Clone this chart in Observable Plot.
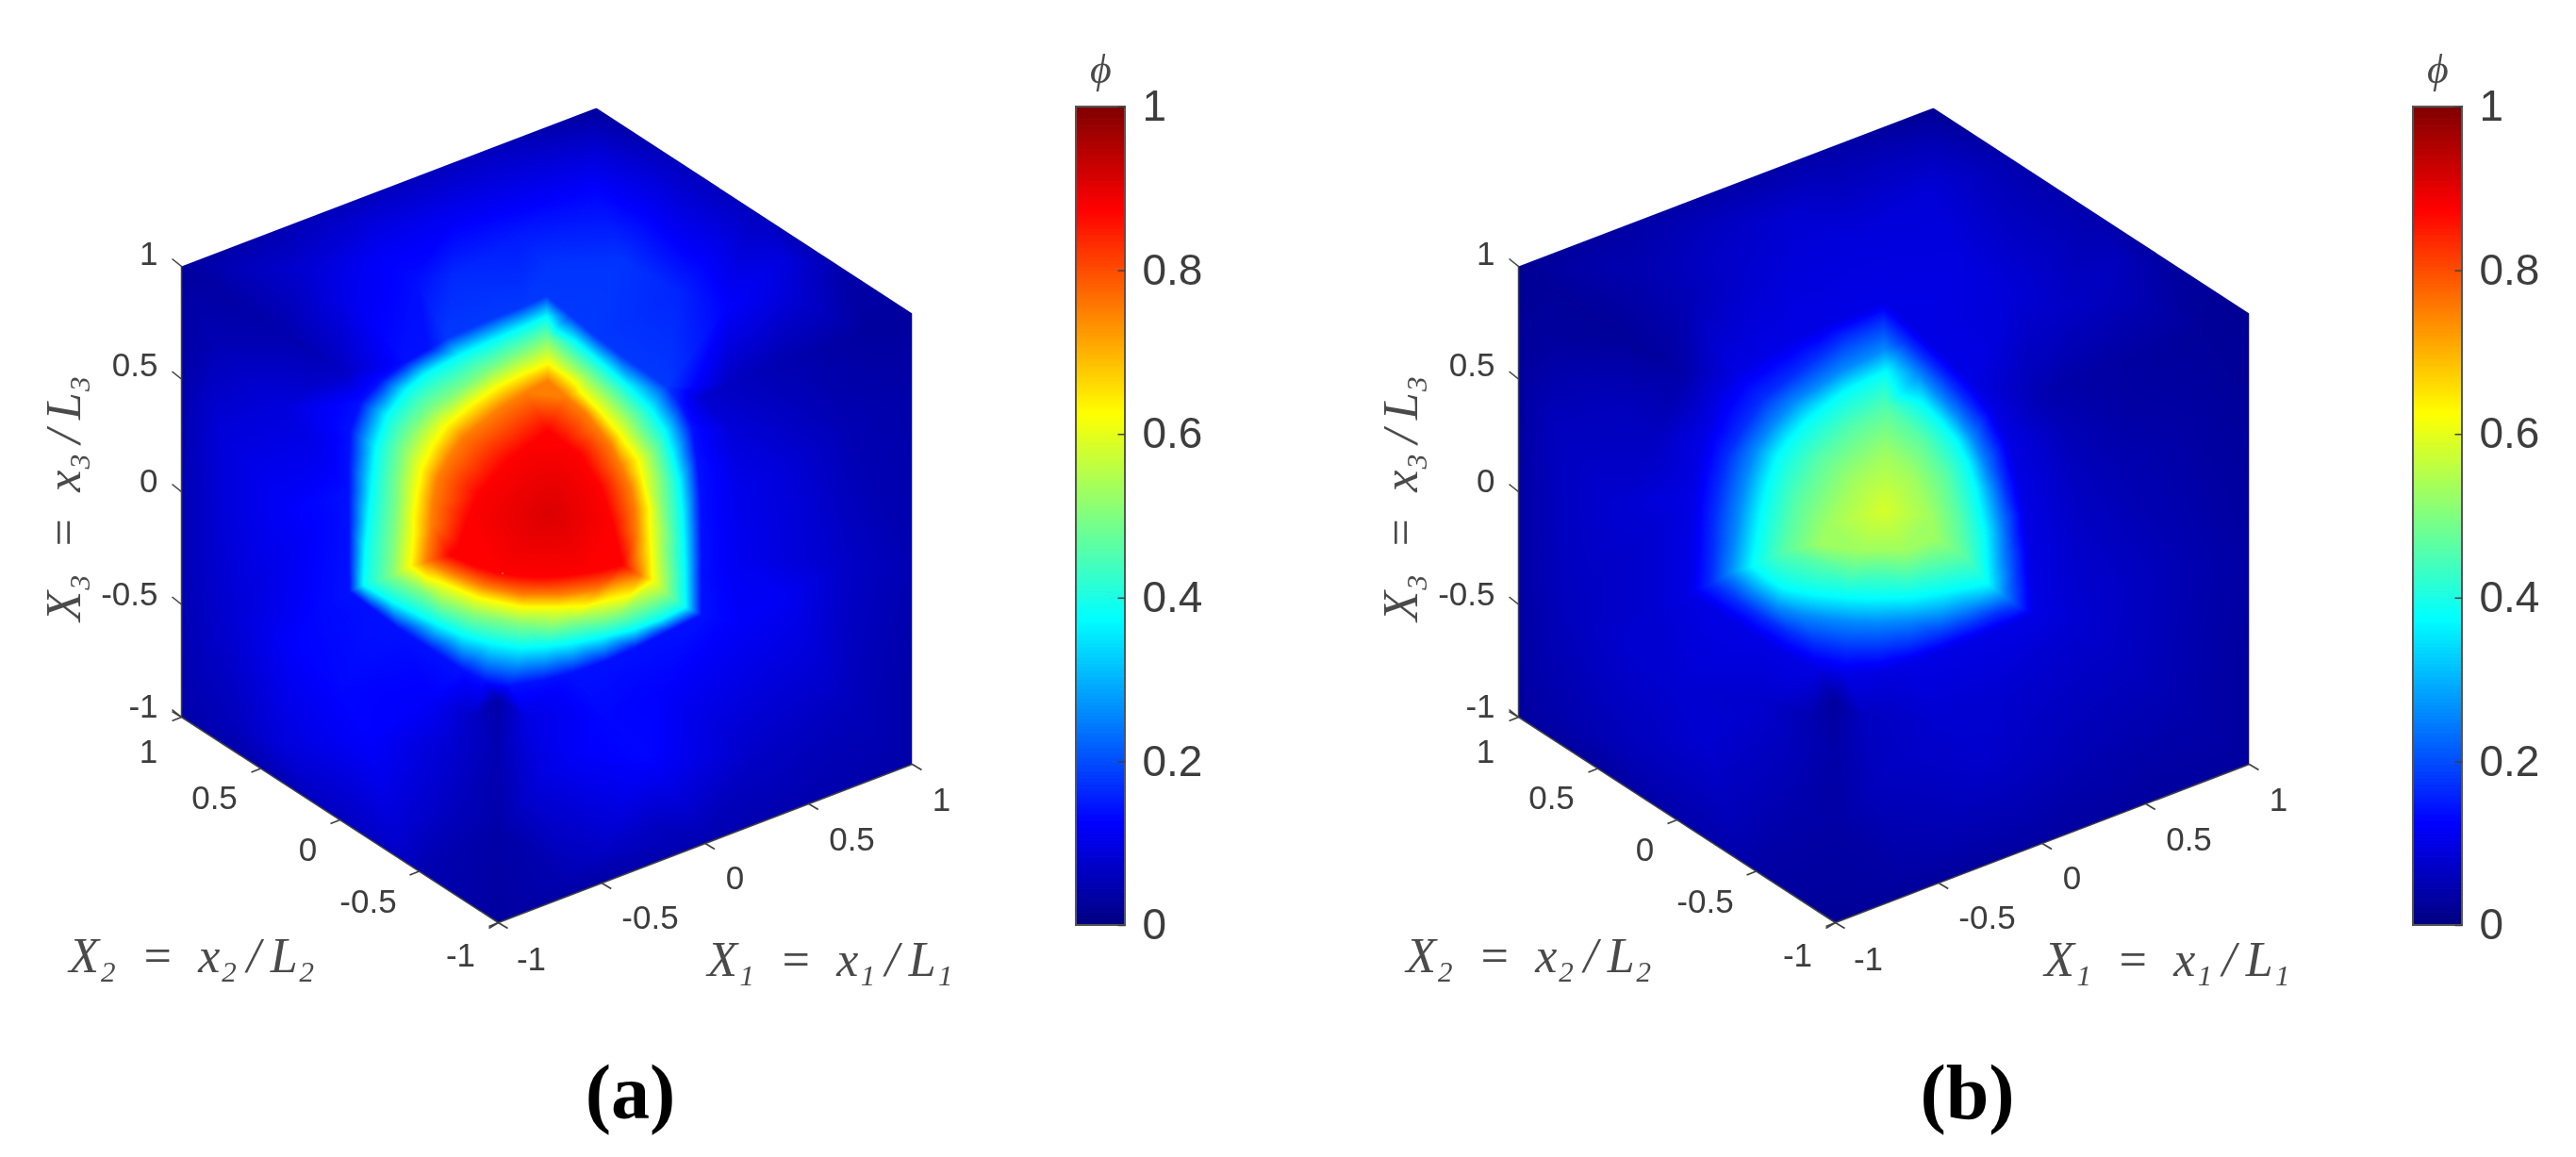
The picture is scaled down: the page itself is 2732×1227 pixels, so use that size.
<!DOCTYPE html>
<html><head><meta charset="utf-8">
<script src="https://cdn.jsdelivr.net/npm/d3@7"></script>
<script src="https://cdn.jsdelivr.net/npm/@observablehq/plot@0.6"></script>
<style>html,body{margin:0;background:#fff}svg{display:block;filter:blur(.6px)}</style>
</head><body><div id="chart"></div>
<script>
const corner = {T:[632,114],L:[192,282],R:[967,332],LL:[192,760],LR:[967,810],B:[528,978]};
const panelOffset = [0,1418];
const tickValues = [-1,-0.5,0,0.5,1];
const barTicks = [0,0.2,0.4,0.6,0.8,1];
const barValues = d3.range(0,1,0.004);
const jetStops = [0,0.125,0.375,0.625,0.875,1];
const jetColors = ["#000080","#0000ff","#00ffff","#ffff00","#ff0000","#800000"];

// surface samples: x, y, phi (a), phi (b)
const surface = [
[632,114,.03,.02],[192,282,.03,.02],[967,332,.03,.02],[192,760,.04,.03],[967,810,.04,.03],[528,978,.03,.02],
[412,198,.06,.04],[520,157,.06,.04],[300,240,.05,.035],[720,170,.06,.045],[800,222,.06,.045],[890,280,.045,.03],
[632,160,.085,.06],[632,200,.125,.085],[480,230,.115,.08],[393,236,.09,.06],[829,276,.095,.06],[300,262,.06,.04],[550,250,.15,.09],[480,292,.165,.09],[580,280,.175,.095],[660,275,.175,.095],[720,310,.16,.085],[770,325,.125,.07],[840,315,.085,.055],[400,275,.12,.07],[330,285,.085,.05],[260,282,.06,.04],
[226,304,.035,.025],[262,328,.04,.025],[300,352,.045,.025],[340,378,.055,.03],[366,395,.07,.04],[918,351,.03,.025],[870,370,.04,.03],[820,388,.05,.035],[773,406,.065,.04],[745,420,.08,.05],
[373,315,.11,.055],[440,295,.135,.08],
[192,400,.04,.03],[192,520,.05,.035],[192,640,.05,.035],[225,360,.05,.03],[230,450,.085,.06],[240,540,.09,.065],[240,650,.08,.06],[300,430,.09,.06],[300,540,.12,.08],[310,680,.125,.08],[335,470,.105,.065],[335,560,.125,.08],[335,650,.13,.08],[360,730,.13,.08],[390,785,.125,.08],
[300,790,.09,.055],[250,770,.06,.045],[361,875,.06,.04],[420,890,.08,.05],[480,790,.08,.06],[455,745,.12,.075],[490,850,.06,.045],[440,930,.05,.035],[277,816,.045,.03],
[527,742,.04,.03],[528,800,.05,.04],[528,880,.04,.035],[528,940,.035,.03],[500,760,.07,.05],
[560,760,.10,.065],[570,830,.09,.06],[610,800,.12,.07],[687,803,.13,.075],[640,760,.13,.08],[700,735,.125,.08],[785,660,.12,.08],[785,590,.11,.075],[785,520,.105,.065],[775,460,.09,.055],[830,630,.115,.07],[830,500,.09,.05],[840,430,.06,.035],[900,600,.07,.05],[900,450,.05,.035],[967,420,.04,.025],[967,600,.05,.035],[967,720,.04,.03],[900,750,.06,.045],[800,800,.07,.05],[700,880,.06,.045],[640,900,.07,.045],[600,930,.05,.035],[748,890,.05,.035],[860,850,.045,.03]
];

// iso-phi rings inside the hot spot, in a 1320x1380 frame over the spot: [x,y]
const ringsA = [
 {phi:.18,pts:[[400,205],[480,170],[550,140],[640,105],[718,70],[790,130],[870,195],[950,255],[1030,310],[1100,360]]},
 {phi:.14,pts:[[90,1010],[88,900],[88,800],[88,700],[88,600],[92,500],[125,410],[190,340],[270,280],[340,240],[1150,420],[1180,490],[1195,580],[1205,680],[1208,780],[1210,880],[1210,980],[1210,1085],[1110,1135],[1000,1190],[900,1235],[800,1270],[700,1295],[600,1310],[520,1295],[450,1260],[350,1195],[250,1130],[170,1070]]},
 {phi:.375,pts:[[135,990],[140,880],[150,780],[160,680],[175,550],[210,450],[270,370],[330,320],[440,260],[550,210],[640,170],[718,135],[810,215],[900,290],[980,360],[1050,430],[1095,500],[1120,580],[1140,660],[1150,760],[1155,860],[1158,960],[1160,1060],[1080,1100],[1000,1130],[900,1155],[800,1175],[720,1185],[640,1190],[540,1175],[450,1150],[370,1115],[300,1080],[220,1040]]},
 {phi:.5,pts:[[720,210],[620,260],[530,310],[440,370],[350,430],[290,500],[260,560],[245,650],[240,750],[230,860],[225,960],[340,1020],[480,1085],[640,1115],[800,1110],[950,1085],[1105,1020],[1098,880],[1090,750],[1060,570],[980,450],[920,385],[850,320]]},
 {phi:.625,pts:[[722,285],[640,320],[560,360],[480,415],[400,480],[355,545],[320,620],[305,700],[295,830],[285,930],[380,980],[500,1030],[640,1060],[760,1060],[900,1040],[1055,975],[1050,880],[1045,800],[1020,640],[950,510],[890,440],[830,380]]},
 {phi:.75,pts:[[722,340],[650,378],[580,420],[515,470],[450,520],[405,585],[370,650],[355,730],[350,800],[335,915],[420,955],[520,995],[640,1020],[760,1020],[880,1005],[1015,960],[1005,820],[1000,750],[985,680],[955,610],[920,540],[880,490],[840,440],[780,390]]},
 {phi:.875,pts:[[722,500],[660,545],[600,590],[550,645],[500,700],[465,780],[440,860],[410,895],[480,925],[560,950],[630,960],[700,965],[775,960],[850,950],[900,940],[960,925],[930,800],[910,740],[890,680],[855,625],[820,570],[770,535]]},
 {phi:.91,pts:[[730,760]]}
];
const ringsB = [
 {phi:.10,pts:[[100,1015],[105,900],[108,800],[115,700],[130,600],[155,500],[195,400],[250,320],[340,260],[430,210],[520,170],[620,130],[718,90],[790,150],[860,215],[930,280],[1000,350],[1060,430],[1110,530],[1140,640],[1165,760],[1180,880],[1190,1000],[1195,1080],[1100,1125],[1000,1165],[900,1205],[800,1240],[700,1265],[600,1275],[500,1250],[400,1205],[320,1155],[250,1110],[170,1060]]},
 {phi:.17,pts:[[170,985],[175,880],[180,780],[195,680],[220,580],[270,490],[330,400],[420,330],[500,270],[600,200],[718,150],[790,215],[860,280],[930,350],[1000,430],[1060,530],[1095,640],[1120,740],[1135,850],[1145,950],[1150,1060],[1070,1085],[1000,1115],[900,1150],[800,1180],[700,1195],[600,1195],[500,1175],[420,1140],[330,1090],[250,1040]]},
 {phi:.26,pts:[[722,240],[650,275],[580,310],[505,360],[430,410],[365,480],[310,560],[280,650],[260,740],[245,850],[230,950],[300,1010],[380,1060],[460,1085],[550,1100],[620,1108],[700,1110],[800,1103],[900,1090],[1000,1060],[1100,1025],[1095,900],[1085,780],[1065,690],[1035,600],[1000,520],[950,450],[890,385],[830,320]]},
 {phi:.375,pts:[[725,310],[660,340],[600,370],[530,420],[470,470],[420,525],[380,580],[350,665],[330,750],[315,840],[300,930],[350,970],[400,1000],[500,1020],[600,1030],[700,1033],[800,1030],[920,1010],[1050,985],[1045,900],[1040,820],[1025,750],[1010,680],[985,600],[950,530],[900,470],[840,410]]},
 {phi:.46,pts:[[725,430],[620,490],[510,590],[440,720],[400,880],[550,930],[700,940],[850,930],[980,900],[960,780],[920,640],[840,520]]},
 {phi:.53,pts:[[725,570],[620,650],[540,800],[520,860],[640,880],[780,880],[880,840],[870,770],[810,640]]},
 {phi:.585,pts:[[720,750]]}
];

const textColor = "#3d3d3d";
const sansFont = "Liberation Sans";
const serifFont = "Liberation Serif";

function samples(rings, col, dx){
  const out = surface.map(r => ({x:r[0]+dx, y:r[1], phi:r[col]}));
  for (const ring of rings) for (const [zx,zy] of ring.pts)
    out.push({x:340+zx/3+dx, y:290+zy/3, phi:ring.phi});
  return out;
}
let clipCount = 0;
function clipToCube(dx){
  const hex = ["T","R","LR","B","LL","L"].map(k => corner[k]);
  return (index, scales, values, dims, ctx, next) => {
    const g = next(index, scales, values, dims, ctx);
    const id = "cube-clip-" + (clipCount++);
    const ns = "http://www.w3.org/2000/svg";
    const cp = document.createElementNS(ns,"clipPath"); cp.setAttribute("id",id);
    const poly = document.createElementNS(ns,"polygon");
    poly.setAttribute("points", hex.map(([x,y]) => scales.x(x+dx)+","+scales.y(y)).join(" "));
    cp.appendChild(poly); g.insertBefore(cp,g.firstChild);
    g.setAttribute("clip-path","url(#"+id+")");
    return g;
  };
}
const lerp = (a,b,t) => [a[0]+(b[0]-a[0])*t, a[1]+(b[1]-a[1])*t];

function panelMarks(rings, col, dx, letter){
  const data = samples(rings,col,dx);
  const pt3 = v => lerp(corner.LL,corner.L,(v+1)/2);
  const pt2 = v => lerp(corner.B,corner.LL,(v+1)/2);
  const pt1 = v => lerp(corner.B,corner.LR,(v+1)/2);
  const tick = (fn,ox,oy) => Plot.link(tickValues,{
    x1:v=>fn(v)[0]+dx, y1:v=>fn(v)[1], x2:v=>fn(v)[0]+dx+ox, y2:v=>fn(v)[1]+oy,
    stroke:"#404040", strokeWidth:1.6});
  const axisPath = [corner.L,corner.LL,corner.B,corner.LR];
  const barY = v => 981 - v*(981-113);
  const barX1 = 1141+dx, barX2 = 1193+dx;
  const z3Labels = [[167,269,"1"],[167,387,"0.5"],[167,510,"0"],[167,630,"-0.5"],[167,749,"-1"]];
  const a2Labels = [[157,797,"1"],[227,846,"0.5"],[326,901,"0"],[390,956,"-0.5"],[488,1013,"-1"]];
  const a1Labels = [[563,1017,"-1"],[689,973,"-0.5"],[779,931,"0"],[903,890,"0.5"],[998,848,"1"]];
  return [
    Plot.raster(data,{x:"x",y:"y",fill:"phi",interpolate:"barycentric",pixelSize:1,
      x1:dx+180,x2:dx+980,y1:100,y2:990,render:clipToCube(dx)}),
    Plot.line(axisPath,{x:d=>d[0]+dx,y:d=>d[1],stroke:"#404040",strokeWidth:1.5}),
    tick(pt3,-10,-8), tick(pt2,-10,4), tick(pt1,10,6),
    Plot.link([corner.LL],{x1:d=>d[0]+dx,y1:d=>d[1],x2:d=>d[0]+dx-10,y2:d=>d[1]-6,stroke:"#404040",strokeWidth:1.6}),
    Plot.link([corner.B],{x1:d=>d[0]+dx,y1:d=>d[1],x2:d=>d[0]+dx-10,y2:d=>d[1]+6,stroke:"#404040",strokeWidth:1.6}),
    Plot.text(z3Labels,{x:d=>d[0]+dx,y:d=>d[1],text:d=>d[2],textAnchor:"end",fontSize:35,fontFamily:sansFont,fill:textColor}),
    Plot.text(a2Labels.concat(a1Labels),{x:d=>d[0]+dx,y:d=>d[1],text:d=>d[2],fontSize:35,fontFamily:sansFont,fill:textColor}),
    Plot.text(["X₃\u2002=\u2002x₃\u2009/\u2009L₃"],{x:68+dx,y:528,rotate:-90,fontSize:52,fontFamily:serifFont,fontStyle:"italic",fill:"#4a4a4a"}),
    Plot.text(["X₂\u2002=\u2002x₂\u2009/\u2009L₂"],{x:203+dx,y:1014,fontSize:52,fontFamily:serifFont,fontStyle:"italic",fill:"#4a4a4a"}),
    Plot.text(["X₁\u2002=\u2002x₁\u2009/\u2009L₁"],{x:880+dx,y:1018,fontSize:52,fontFamily:serifFont,fontStyle:"italic",fill:"#4a4a4a"}),
    Plot.rect(barValues,{x1:barX1,x2:barX2,y1:v=>barY(v),y2:v=>barY(v+0.004),fill:v=>v+0.002,stroke:v=>v+0.002,strokeWidth:1}),
    Plot.rect([0],{x1:barX1,x2:barX2,y1:barY(0),y2:barY(1),stroke:"#555",strokeWidth:2,fill:"none"}),
    Plot.link(barTicks,{x1:barX2-8,x2:barX2,y1:v=>barY(v),y2:v=>barY(v),stroke:"#404040",strokeWidth:1.5}),
    Plot.text(barTicks,{x:barX2+18,y:v=>barY(v),text:v=>String(v),textAnchor:"start",fontSize:46,fontFamily:sansFont,fill:textColor}),
    Plot.text(["ϕ"],{x:1167+dx,y:73,fontSize:44,fontFamily:serifFont,fontStyle:"italic",fill:"#4a4a4a"}),
    Plot.text(["("+letter+")"],{x:668+dx,y:1159,fontSize:82,fontFamily:serifFont,fontWeight:"bold",fill:"#000"})
  ];
}

const chart = Plot.plot({
  width:2732,height:1227,margin:0,
  x:{domain:[0,2732],range:[0,2732],axis:null},
  y:{domain:[0,1227],range:[0,1227],axis:null},
  color:{type:"linear",domain:jetStops,range:jetColors,interpolate:"rgb",clamp:true},
  style:{background:"#fff"},
  marks:[...panelMarks(ringsA,2,panelOffset[0],"a"),...panelMarks(ringsB,3,panelOffset[1],"b")]
});
document.getElementById("chart").appendChild(chart);
</script></body></html>
